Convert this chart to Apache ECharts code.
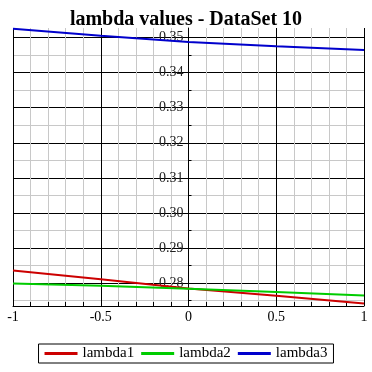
<!DOCTYPE html>
<html><head><meta charset="utf-8">
<script src="https://cdn.jsdelivr.net/npm/echarts@6/dist/echarts.min.js"></script>
<style>html,body{margin:0;padding:0;background:#fff}#c{width:372px;height:372px}</style>
</head><body><div id="c"></div>
<script>
const xValues = [-1, -0.5, 0, 0.5, 1];
const lambda1 = [0.2836, 0.2811, 0.2785, 0.2764, 0.2742];
const lambda2 = [0.2799, 0.2793, 0.2784, 0.2775, 0.2765];
const lambda3 = [0.3525, 0.3505, 0.3487, 0.3475, 0.3464];
const yLabelTicks = [0.28, 0.29, 0.30, 0.31, 0.32, 0.33, 0.34, 0.35];
const yGridTicks = [0.275, 0.28, 0.285, 0.29, 0.295, 0.30, 0.305, 0.31, 0.315, 0.32, 0.325, 0.33, 0.335, 0.34, 0.345, 0.35];
const xMin = -1, xMax = 1;
const yMin = 0.2735, yMax = 0.3527;

const font = 'Liberation Serif';
const pts = arr => xValues.map((x, i) => [x, arr[i]]);
const chart = echarts.init(document.getElementById('c'), null, {renderer: 'canvas'});
chart.setOption({
  animation: false,
  backgroundColor: '#fff',
  title: {
    text: 'lambda values - DataSet 10', left: 'center', top: 5,
    textStyle: {fontFamily: font, fontSize: 20, fontWeight: 'bold', color: '#000'}
  },
  legend: {
    left: 'center', top: 344,
    data: ['lambda1', 'lambda2', 'lambda3'],
    icon: 'rect', itemWidth: 33, itemHeight: 3, itemGap: 7,
    borderColor: '#000', borderWidth: 1, padding: [2, 6],
    textStyle: {fontFamily: font, fontSize: 15, color: '#000'}
  },
  grid: {left: 13, right: 8, top: 28, bottom: 66, outerBoundsMode: 'none', containLabel: false},
  xAxis: {
    type: 'value', min: xMin, max: xMax, interval: 0.5,
    axisLine: {onZero: false, lineStyle: {color: '#000', width: 1}},
    axisTick: {inside: true, length: 4, lineStyle: {color: '#000'}},
    minorTick: {show: true, splitNumber: 5, length: 4, lineStyle: {color: '#000'}},
    splitLine: {show: true, lineStyle: {color: '#000', width: 1}},
    minorSplitLine: {show: true, lineStyle: {color: '#c8c8c8', width: 1}},
    axisLabel: {fontFamily: font, fontSize: 14, color: '#000', margin: 4,
      formatter: v => String(v)}
  },
  yAxis: {
    type: 'value', min: yMin, max: yMax,
    axisLine: {show: true, onZero: false, lineStyle: {color: '#000', width: 1}},
    axisTick: {show: true, inside: true, length: 3, customValues: yGridTicks, lineStyle: {color: '#000'}},
    splitLine: {show: true, lineStyle: {color: ['#c8c8c8', '#000'], width: 1}},
    axisLabel: {customValues: yLabelTicks, fontFamily: font, fontSize: 14, color: '#222', margin: 5,
      formatter: v => v.toFixed(2)}
  },
  series: [
    {name: 'lambda1', type: 'line', data: pts(lambda1), showSymbol: false, symbol: 'none',
      lineStyle: {color: '#cc0000', width: 2}, itemStyle: {color: '#cc0000'}},
    {name: 'lambda2', type: 'line', data: pts(lambda2), showSymbol: false, symbol: 'none',
      lineStyle: {color: '#00cc00', width: 2}, itemStyle: {color: '#00cc00'}},
    {name: 'lambda3', type: 'line', data: pts(lambda3), showSymbol: false, symbol: 'none',
      lineStyle: {color: '#0000cc', width: 2}, itemStyle: {color: '#0000cc'}}
  ]
});
// place the y axis on x = 0, using the library's own scale
const pxZero = chart.convertToPixel({xAxisIndex: 0}, 0);
const pxLeft = chart.convertToPixel({xAxisIndex: 0}, xMin);
chart.setOption({yAxis: {offset: -(pxZero - pxLeft)}});
</script></body></html>
